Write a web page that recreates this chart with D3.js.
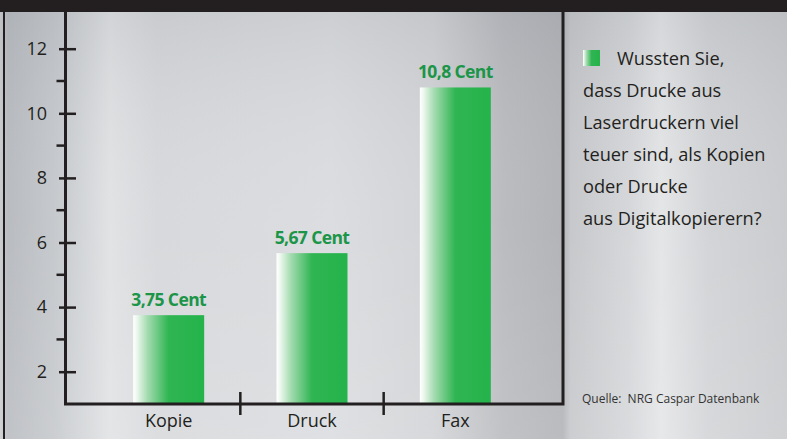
<!DOCTYPE html>
<html>
<head>
<meta charset="utf-8">
<script src="https://cdn.jsdelivr.net/npm/d3@7"></script>
<style>
  body { margin: 0; background: #ffffff; }
  svg { display: block; font-family: "Open Sans", "Noto Sans", sans-serif; }
</style>
</head>
<body>
<div id="chart"></div>
<script>
var categories = ["Kopie", "Druck", "Fax"];
var values = [3.75, 5.67, 10.8];
var valueLabels = ["3,75 Cent", "5,67 Cent", "10,8 Cent"];
var yTicks = [2, 4, 6, 8, 10, 12];
var yMinorTicks = [3, 5, 7, 9, 11];
var noteLines = ["Wussten Sie,", "dass Drucke aus", "Laserdruckern viel",
                 "teuer sind, als Kopien", "oder Drucke", "aus Digitalkopierern?"];
var sourceText = "Quelle:  NRG Caspar Datenbank";

var width = 787, height = 439;
var ink = "#231f20";

var svg = d3.select("#chart").append("svg")
    .attr("width", width)
    .attr("height", height);

var defs = svg.append("defs");

// brushed metal background
var bg = defs.append("linearGradient").attr("id", "metal")
    .attr("x1", "0%").attr("x2", "100%").attr("y1", "0%").attr("y2", "0%");
[[0, "#c9cbce"], [0.01, "#b5b8bd"], [0.07, "#c3c6ca"], [0.14, "#dfe1e3"],
 [0.2, "#d5d7da"], [0.42, "#d9dbde"], [0.55, "#d0d2d5"], [0.64, "#b6b8bc"],
 [0.715, "#aeb0b4"], [0.725, "#c3c5c8"], [0.8, "#d3d5d8"], [0.84, "#e3e4e6"],
 [0.9, "#d0d2d5"], [1, "#c7c9cc"]].forEach(function(s) {
  bg.append("stop").attr("offset", s[0]).attr("stop-color", s[1]);
});

var shade = defs.append("linearGradient").attr("id", "shade")
    .attr("x1", "0%").attr("x2", "0%").attr("y1", "0%").attr("y2", "100%");
shade.append("stop").attr("offset", 0).attr("stop-color", "#8a8e95").attr("stop-opacity", 0.18);
shade.append("stop").attr("offset", 0.5).attr("stop-color", "#ffffff").attr("stop-opacity", 0.05);
shade.append("stop").attr("offset", 1).attr("stop-color", "#ffffff").attr("stop-opacity", 0.15);

var barGrad = defs.append("linearGradient").attr("id", "barGrad")
    .attr("x1", "0%").attr("x2", "100%").attr("y1", "0%").attr("y2", "0%");
[[0, "#ffffff"], [0.04, "#f2faf3"], [0.2, "#a5dbb0"], [0.5, "#2fb552"], [1, "#25b34b"]]
  .forEach(function(s) {
    barGrad.append("stop").attr("offset", s[0]).attr("stop-color", s[1]);
  });

svg.append("rect").attr("width", width).attr("height", height).attr("fill", "url(#metal)");
svg.append("rect").attr("width", width).attr("height", height).attr("fill", "url(#shade)");

// top bar and left border
svg.append("rect").attr("width", width).attr("height", 12).attr("fill", ink);
svg.append("line").attr("x1", 4).attr("x2", 4).attr("y1", 0).attr("y2", height)
    .attr("stroke", ink).attr("stroke-width", 2);

var x0 = 65.5, x1 = 563, y0 = 404;

var x = d3.scaleBand().domain(categories).range([97, 527]).padding(0);
var y = d3.scaleLinear().domain([1, 12]).range([y0, 48.7]);

var barW = 71;

// bars
svg.selectAll(".bar").data(values).enter().append("rect")
    .attr("class", "bar")
    .attr("x", function(d, i) { return x(categories[i]) + x.bandwidth() / 2 - barW / 2; })
    .attr("y", function(d) { return y(d); })
    .attr("width", barW)
    .attr("height", function(d) { return y0 - y(d); })
    .attr("fill", "url(#barGrad)");

svg.selectAll(".vlabel").data(values).enter().append("text")
    .attr("class", "vlabel")
    .attr("x", function(d, i) { return x(categories[i]) + x.bandwidth() / 2; })
    .attr("y", function(d) { return y(d) - 9; })
    .attr("text-anchor", "middle")
    .attr("font-size", 17.5)
    .attr("font-weight", 700)
    .attr("letter-spacing", -0.6)
    .attr("fill", "#1b9548")
    .text(function(d, i) { return valueLabels[i]; });

// y axis
var yAxis = svg.append("g")
    .attr("transform", "translate(" + x0 + ",0)")
    .call(d3.axisLeft(y).tickValues(yTicks).tickSize(6.5).tickPadding(12));
yAxis.select(".domain").remove();
yAxis.selectAll(".tick line").attr("x2", -6.5).attr("x1", 10.5)
    .attr("stroke", ink).attr("stroke-width", 2.5);
yAxis.selectAll(".tick text")
    .attr("font-size", 18).attr("font-family", "Open Sans, sans-serif")
    .attr("fill", ink);

svg.append("g").selectAll("line").data(yMinorTicks).enter().append("line")
    .attr("x1", x0 - 9).attr("x2", x0)
    .attr("y1", function(d) { return y(d); })
    .attr("y2", function(d) { return y(d); })
    .attr("stroke", ink).attr("stroke-width", 2.5);

// frame lines
svg.append("path")
    .attr("d", "M" + x0 + ",12V" + y0 + "H" + x1 + "V12")
    .attr("fill", "none").attr("stroke", ink).attr("stroke-width", 3);

// category separators
svg.append("g").selectAll("line").data(categories.slice(1)).enter().append("line")
    .attr("x1", function(d) { return x(d); })
    .attr("x2", function(d) { return x(d); })
    .attr("y1", y0 - 12).attr("y2", y0 + 11)
    .attr("stroke", ink).attr("stroke-width", 2.5);

svg.append("g").selectAll("text").data(categories).enter().append("text")
    .attr("x", function(d) { return x(d) + x.bandwidth() / 2; })
    .attr("y", 427)
    .attr("text-anchor", "middle")
    .attr("font-size", 18)
    .attr("fill", ink)
    .text(function(d) { return d; });

// note panel
svg.append("rect").attr("x", 583).attr("y", 50).attr("width", 17).attr("height", 16)
    .attr("fill", "url(#barGrad)");

svg.append("g").selectAll("text").data(noteLines).enter().append("text")
    .attr("x", function(d, i) { return i === 0 ? 617 : 583; })
    .attr("y", function(d, i) { return 65 + i * 32; })
    .attr("font-size", 18.2)
    .attr("fill", ink)
    .text(function(d) { return d; });

svg.append("text")
    .attr("x", 582).attr("y", 403)
    .attr("font-size", 12)
    .attr("fill", "#333")
    .style("white-space", "pre")
    .text(sourceText);
</script>
</body>
</html>
